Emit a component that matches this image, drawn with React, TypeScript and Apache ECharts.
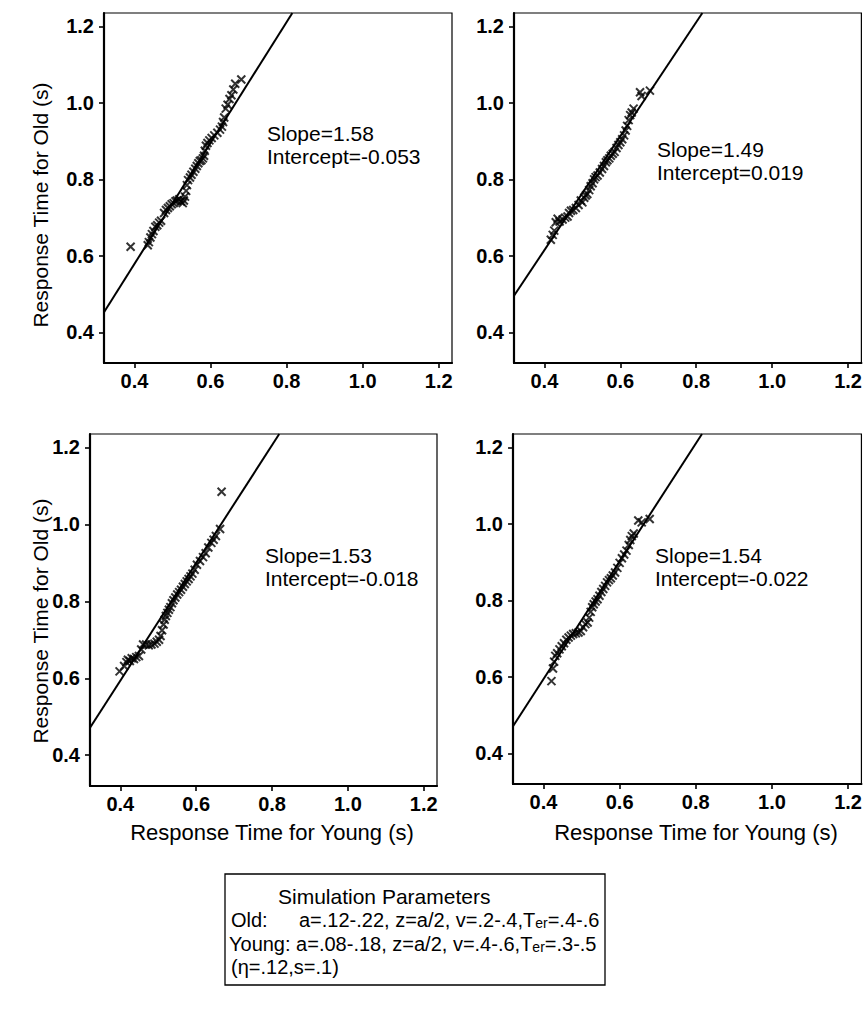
import React, { useEffect, useRef } from "react";
import * as echarts from "echarts";

// ---- data ----
const tickValues = [0.4, 0.6, 0.8, 1.0, 1.2];
const axisMin = 0.32;
const axisMax = 1.235;

const slopes = [1.58, 1.49, 1.53, 1.54];
const intercepts = [-0.053, 0.019, -0.018, -0.022];
const slopeLabels = ["Slope=1.58", "Slope=1.49", "Slope=1.53", "Slope=1.54"];
const interceptLabels = ["Intercept=-0.053", "Intercept=0.019", "Intercept=-0.018", "Intercept=-0.022"];

const panel1 = [
  [0.39, 0.624], [0.435, 0.628], [0.438, 0.636], [0.442, 0.648], [0.446, 0.657], [0.45, 0.665],
  [0.455, 0.676], [0.46, 0.68], [0.465, 0.687], [0.47, 0.692], [0.478, 0.712], [0.483, 0.72],
  [0.488, 0.725], [0.493, 0.73], [0.498, 0.735], [0.503, 0.738], [0.508, 0.743], [0.512, 0.745],
  [0.518, 0.748], [0.522, 0.742], [0.527, 0.738], [0.53, 0.745], [0.533, 0.755], [0.536, 0.77],
  [0.538, 0.785], [0.541, 0.798], [0.546, 0.805], [0.55, 0.812], [0.555, 0.82], [0.56, 0.828],
  [0.564, 0.835], [0.568, 0.842], [0.572, 0.848], [0.576, 0.85], [0.58, 0.855], [0.583, 0.862],
  [0.585, 0.875], [0.588, 0.888], [0.592, 0.895], [0.597, 0.902], [0.603, 0.908], [0.61, 0.915],
  [0.618, 0.922], [0.625, 0.93], [0.63, 0.938], [0.633, 0.95], [0.636, 0.962], [0.64, 0.985],
  [0.645, 0.995], [0.65, 1.01], [0.655, 1.02], [0.66, 1.035], [0.665, 1.05], [0.681, 1.061],
];

const panel2 = [
  [0.417, 0.642], [0.422, 0.655], [0.426, 0.666], [0.43, 0.688], [0.435, 0.697], [0.44, 0.69],
  [0.448, 0.695], [0.455, 0.7], [0.461, 0.703], [0.465, 0.712], [0.47, 0.718], [0.476, 0.72],
  [0.483, 0.725], [0.49, 0.733], [0.496, 0.745], [0.5, 0.74], [0.505, 0.752], [0.509, 0.758],
  [0.513, 0.762], [0.518, 0.772], [0.522, 0.782], [0.527, 0.79], [0.531, 0.8], [0.535, 0.806],
  [0.54, 0.81], [0.546, 0.818], [0.552, 0.827], [0.557, 0.835], [0.562, 0.845], [0.566, 0.85],
  [0.571, 0.855], [0.575, 0.862], [0.58, 0.867], [0.585, 0.872], [0.59, 0.882], [0.595, 0.89],
  [0.6, 0.897], [0.605, 0.905], [0.61, 0.915], [0.614, 0.928], [0.618, 0.94], [0.622, 0.955],
  [0.626, 0.968], [0.63, 0.975], [0.635, 0.985], [0.652, 1.028], [0.656, 1.018], [0.678, 1.032],
];

const panel3 = [
  [0.398, 0.618], [0.41, 0.632], [0.416, 0.642], [0.42, 0.648], [0.425, 0.645], [0.43, 0.652],
  [0.436, 0.65], [0.442, 0.655], [0.449, 0.658], [0.455, 0.675], [0.46, 0.688], [0.468, 0.688],
  [0.475, 0.686], [0.482, 0.688], [0.49, 0.69], [0.496, 0.695], [0.502, 0.7], [0.506, 0.71],
  [0.51, 0.725], [0.514, 0.74], [0.517, 0.752], [0.52, 0.762], [0.524, 0.77], [0.528, 0.778],
  [0.532, 0.785], [0.536, 0.795], [0.54, 0.803], [0.545, 0.81], [0.55, 0.818], [0.555, 0.824],
  [0.56, 0.83], [0.565, 0.838], [0.57, 0.845], [0.575, 0.852], [0.58, 0.858], [0.585, 0.865],
  [0.59, 0.872], [0.596, 0.882], [0.602, 0.895], [0.61, 0.905], [0.618, 0.915], [0.625, 0.925],
  [0.632, 0.94], [0.64, 0.952], [0.646, 0.96], [0.652, 0.97], [0.663, 0.988], [0.667, 1.085],
];

const panel4 = [
  [0.421, 0.589], [0.425, 0.622], [0.428, 0.64], [0.431, 0.655], [0.436, 0.662], [0.442, 0.672],
  [0.448, 0.68], [0.454, 0.688], [0.46, 0.697], [0.466, 0.703], [0.472, 0.708], [0.478, 0.712],
  [0.485, 0.714], [0.492, 0.716], [0.498, 0.72], [0.504, 0.73], [0.51, 0.738], [0.516, 0.742],
  [0.52, 0.755], [0.524, 0.77], [0.528, 0.782], [0.532, 0.79], [0.537, 0.797], [0.542, 0.803],
  [0.547, 0.812], [0.552, 0.822], [0.557, 0.83], [0.562, 0.838], [0.567, 0.847], [0.572, 0.853],
  [0.577, 0.858], [0.582, 0.865], [0.588, 0.873], [0.594, 0.885], [0.6, 0.898], [0.606, 0.91],
  [0.612, 0.92], [0.618, 0.93], [0.624, 0.945], [0.628, 0.958], [0.632, 0.968], [0.637, 0.975],
  [0.649, 1.009], [0.658, 1.004], [0.679, 1.013],
];

const panels = [panel1, panel2, panel3, panel4];

const FONT = "'Liberation Sans', Arial, Helvetica, sans-serif";

export default function App() {
  const ref = useRef<HTMLDivElement>(null);

  useEffect(() => {
    if (!ref.current) return;
    const chart = echarts.init(ref.current, undefined, { renderer: "svg" });

    const grids = [
      { left: 104, top: 13, width: 348, height: 350 },
      { left: 514, top: 13, width: 348, height: 350 },
      { left: 90, top: 434, width: 347, height: 352 },
      { left: 513, top: 434, width: 349, height: 350 },
    ].map((g) => ({ ...g, show: true, borderColor: "#000", borderWidth: 1.2, backgroundColor: "transparent" }));

    const mkAxis = (i: number, isX: boolean) => ({
      type: "value",
      gridIndex: i,
      min: axisMin,
      max: axisMax,
      axisLine: { show: true, onZero: false, lineStyle: { color: "#000", width: 2.2 } },
      axisTick: { show: true, length: 5, inside: false, customValues: tickValues, lineStyle: { color: "#000", width: 1.6 } },
      axisLabel: {
        show: true,
        customValues: tickValues,
        formatter: (v: number) => v.toFixed(1),
        color: "#000",
        fontSize: 20,
        fontWeight: "bold",
        fontFamily: FONT,
        margin: isX ? 8 : 10,
      },
      splitLine: { show: false },
    });

    const xAxis = [0, 1, 2, 3].map((i) => mkAxis(i, true));
    const yAxis = [0, 1, 2, 3].map((i) => mkAxis(i, false));

    const scatterSeries = panels.map((d, i) => ({
      type: "scatter",
      xAxisIndex: i,
      yAxisIndex: i,
      data: d,
      symbol: "path://M0,0L10,10M0,10L10,0",
      symbolSize: 8,
      itemStyle: { color: "#000", borderColor: "#000", borderWidth: 2 },
      z: 3,
    }));

    const lineSeries = slopes.map((m, i) => {
      const b = intercepts[i];
      return {
        type: "line",
        xAxisIndex: i,
        yAxisIndex: i,
        data: [
          [axisMin, m * axisMin + b],
          [(axisMax - b) / m, axisMax],
        ],
        showSymbol: false,
        symbol: "none",
        lineStyle: { color: "#000", width: 2 },
        clip: true,
        z: 2,
      };
    });

    const annPos = [
      [267, 133],
      [657, 149],
      [265, 555],
      [655, 555],
    ];
    const annotations: any[] = [];
    annPos.forEach((p, i) => {
      annotations.push({
        type: "text",
        x: p[0],
        y: p[1],
        style: { text: slopeLabels[i], font: `21px ${FONT}`, fill: "#000", textVerticalAlign: "middle" },
      });
      annotations.push({
        type: "text",
        x: p[0],
        y: p[1] + 23,
        style: { text: interceptLabels[i], font: `21px ${FONT}`, fill: "#000", textVerticalAlign: "middle" },
      });
    });

    const yTitle = (cx: number, cy: number) => ({
      type: "text",
      x: cx,
      y: cy,
      rotation: Math.PI / 2,
      style: {
        text: "Response Time for Old (s)",
        font: `21px ${FONT}`,
        fill: "#000",
        textAlign: "center",
        textVerticalAlign: "middle",
      },
    });
    const xTitle = (cx: number, cy: number) => ({
      type: "text",
      x: cx,
      y: cy,
      style: {
        text: "Response Time for Young (s)",
        font: `22px ${FONT}`,
        fill: "#000",
        textAlign: "center",
        textVerticalAlign: "middle",
      },
    });

    const boxFont = `20px ${FONT}`;
    const rich = {
      sub: { fontSize: 14, fontFamily: FONT, verticalAlign: "bottom", lineHeight: 13 },
    };

    const box = [
      {
        type: "rect",
        shape: { x: 225, y: 874, width: 380, height: 111 },
        style: { fill: "none", stroke: "#000", lineWidth: 1.3 },
      },
      { type: "text", x: 278, y: 896, style: { text: "Simulation Parameters", font: `21px ${FONT}`, fill: "#000", textVerticalAlign: "middle" } },
      { type: "text", x: 231, y: 920, style: { text: "Old:", font: boxFont, fill: "#000", textVerticalAlign: "middle" } },
      {
        type: "text",
        x: 299,
        y: 920,
        style: {
          text: "a=.12-.22, z=a/2, v=.2-.4,T{sub|er}=.4-.6",
          font: boxFont,
          fill: "#000",
          textVerticalAlign: "middle",
          rich,
        },
      },
      {
        type: "text",
        x: 229,
        y: 944,
        style: {
          text: "Young: a=.08-.18, z=a/2, v=.4-.6,T{sub|er}=.3-.5",
          font: boxFont,
          fill: "#000",
          textVerticalAlign: "middle",
          rich,
        },
      },
      { type: "text", x: 231, y: 967, style: { text: "(\u03B7=.12,s=.1)", font: boxFont, fill: "#000", textVerticalAlign: "middle" } },
    ];

    chart.setOption({
      animation: false,
      backgroundColor: "#fff",
      grid: grids,
      xAxis,
      yAxis,
      series: [...lineSeries, ...scatterSeries],
      graphic: [
        ...annotations,
        yTitle(40, 205),
        yTitle(40, 621),
        xTitle(272, 832),
        xTitle(696, 832),
        ...box,
      ],
    });

    return () => chart.dispose();
  }, []);

  return <div ref={ref} style={{ position: "absolute", left: 0, top: 0, width: 865, height: 1009 }} />;
}
